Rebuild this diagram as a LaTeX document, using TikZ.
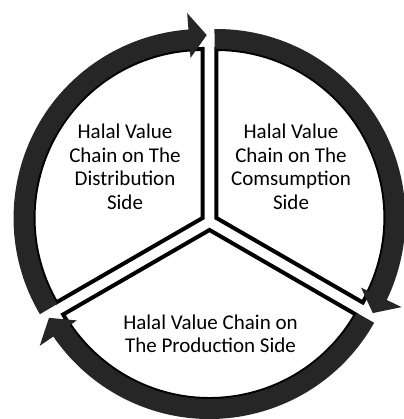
\documentclass[tikz,border=0pt]{standalone}
\usepackage{fontspec}
\setmainfont{Carlito}
\usetikzlibrary{calc}
\definecolor{bandgray}{HTML}{262626}
\tikzset{
  segline/.style={draw=black, line width=4pt, fill=white, line join=miter},
  arrowband/.style={fill=bandgray, draw=none},
  seglabel/.style={font=\fontsize{21}{23.5}\selectfont, align=center, inner sep=0pt, text=black}
}
% One pie segment of the cycle: #1 = name of its centre, #2 = start angle.
% The segment runs clockwise over 120 degrees and ends in an arrowhead.
\newcommand\cyclesegment[2]{%
  \pgfmathsetmacro\segS{#2}%
  \pgfmathsetmacro\segE{#2-120}%
  \pgfmathsetmacro\segB{#2-60}%
  \pgfmathsetmacro\segA{#2+0.6}%
  \pgfmathsetmacro\segH{#2-120+4.3}%
  \pgfmathsetmacro\segT{#2-120-1.3}%
  \coordinate (#1) at ($(C)+(\segB:8pt)$);
  \path[segline] (#1) -- ($(#1)+(\segS:169pt)$)
    arc[start angle=\segS, end angle=\segE, radius=169pt] -- cycle;
  \path[arrowband] ($(#1)+(\segA:189pt)$)
    arc[start angle=\segA, end angle=\segH, radius=189pt]
    -- ($(#1)+(\segH:205.5pt)$) -- ($(#1)+(\segT:183pt)$)
    -- ($(#1)+(\segH:160.5pt)$) -- ($(#1)+(\segH:169pt)$)
    arc[start angle=\segH, end angle=\segA, radius=169pt] -- cycle;
}
\begin{document}
\begin{tikzpicture}[x=1pt, y=1pt]
  \useasboundingbox (0,0) rectangle (403,419);
  \fill[white] (0,0) rectangle (403,419);
  \coordinate (C) at (209.5pt,197pt);
  \cyclesegment{distseg}{210}
  \cyclesegment{consseg}{90}
  \cyclesegment{prodseg}{-30}
  \node[seglabel] (dist) at (125pt,252pt) {Halal Value\\Chain on The\\Distribution\\Side};
  \node[seglabel] (cons) at (291pt,252pt) {Halal Value\\Chain on The\\Comsumption\\Side};
  \node[seglabel] (prod) at (210.5pt,85pt) {Halal Value Chain on\\The Production Side};
\end{tikzpicture}
\end{document}
